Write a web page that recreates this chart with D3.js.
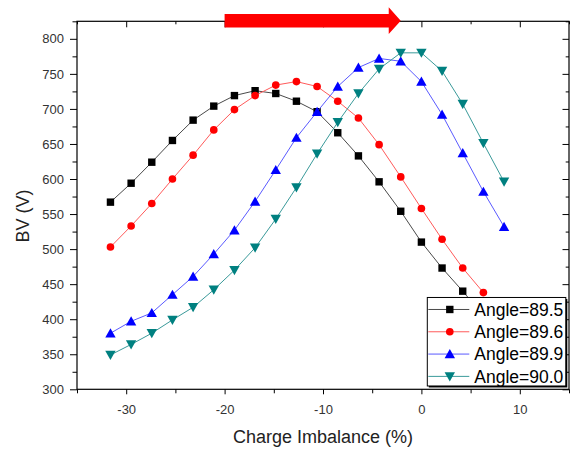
<!DOCTYPE html>
<html>
<head>
<meta charset="utf-8">
<script src="https://cdn.jsdelivr.net/npm/d3@7"></script>
<style>
  body { margin: 0; background: #fff; }
  svg { display: block; font-family: "Liberation Sans", Arial, sans-serif; }
  .tick text { fill: #333; font-size: 13px; }
</style>
</head>
<body>
<script>
// Charge imbalance values (%) shared by all series
const imbalance = [-31.6, -29.5, -27.4, -25.3, -23.2, -21.1, -19.0, -16.9, -14.8, -12.7,
  -10.6, -8.5, -6.4, -4.3, -2.1, 0, 2.1, 4.2, 6.3, 8.4];

// BV (V) per series
const bv895 = [567, 594, 624, 655, 684, 704, 719, 726, 722, 711, 696, 666, 633, 596, 554, 510, 473, 440, 405];
const bv896 = [503, 533, 565, 600, 634, 670, 699, 719, 734, 739, 732, 711, 687, 649, 603, 558, 514, 473, 438];
const bv899 = [380, 397, 409, 435, 461, 493, 527, 568, 613, 659, 696, 732, 759, 772, 768, 739, 692, 637, 582, 532];
const bv900 = [349, 364, 380, 399, 417, 442, 470, 502, 543, 588, 636, 681, 722, 757, 780, 780, 754, 707, 651, 596];

const seriesNames = ['Angle=89.5', 'Angle=89.6', 'Angle=89.9', 'Angle=90.0'];
const xMajor = [-30, -20, -10, 0, 10];
const xMinor = [-35, -25, -15, -5, 5, 15];
const yMajor = [300, 350, 400, 450, 500, 550, 600, 650, 700, 750, 800];
const yMinor = [325, 375, 425, 475, 525, 575, 625, 675, 725, 775, 825];
const arrowFrom = -20;
const arrowTo = -2.1;

const fullWidth = 573;
const fullHeight = 451;
const margin = { top: 21.3, right: 4, bottom: 61.7, left: 77 };
const width = fullWidth - margin.left - margin.right;
const height = fullHeight - margin.top - margin.bottom;

const svg = d3.select('body')
  .append('svg')
  .attr('width', fullWidth)
  .attr('height', fullHeight);

const g = svg.append('g')
  .attr('transform', `translate(${margin.left}, ${margin.top})`);

const x = d3.scaleLinear().domain([-35, 15]).range([0, width]);
const y = d3.scaleLinear().domain([300, 825]).range([height, 0]);

// Axes: left/bottom outward, top/right inward
const styleAxis = (sel) => {
  sel.select('.domain').remove();
  sel.selectAll('.tick line').attr('stroke', '#000').attr('stroke-width', 1);
};

g.append('g')
  .attr('transform', `translate(0, ${height})`)
  .call(d3.axisBottom(x).tickValues(xMajor).tickSize(5).tickPadding(10).tickFormat(d => String(d)))
  .call(styleAxis);
g.append('g')
  .attr('transform', `translate(0, ${height})`)
  .call(d3.axisBottom(x).tickValues(xMinor).tickSize(4).tickFormat(''))
  .call(styleAxis);
g.append('g')
  .call(d3.axisBottom(x).tickValues(xMajor).tickSize(6).tickFormat(''))
  .call(styleAxis);
g.append('g')
  .call(d3.axisBottom(x).tickValues(xMinor).tickSize(3).tickFormat(''))
  .call(styleAxis);

g.append('g')
  .call(d3.axisLeft(y).tickValues(yMajor).tickSize(7).tickPadding(6).tickFormat(d => String(d)))
  .call(styleAxis);
g.append('g')
  .call(d3.axisLeft(y).tickValues(yMinor).tickSize(4.5).tickFormat(''))
  .call(styleAxis);
g.append('g')
  .attr('transform', `translate(${width}, 0)`)
  .call(d3.axisLeft(y).tickValues(yMajor).tickSize(-6.5).tickFormat(''))
  .call(styleAxis)
  .selectAll('.tick line').attr('x2', -6.5);
g.append('g')
  .attr('transform', `translate(${width}, 0)`)
  .call(d3.axisLeft(y).tickValues(yMinor).tickSize(-3.3).tickFormat(''))
  .call(styleAxis)
  .selectAll('.tick line').attr('x2', -3.3);

// frame
g.append('rect')
  .attr('width', width)
  .attr('height', height)
  .attr('fill', 'none')
  .attr('stroke', '#000')
  .attr('stroke-width', 1.2);

// marker shapes
const markers = {
  square: 'M-3.7,-3.7H3.7V3.7H-3.7Z',
  circle: d3.symbol(d3.symbolCircle, 46)(),
  up: 'M0,-5L5.2,4.2L-5.2,4.2Z',
  down: 'M0,5L5.2,-4.2L-5.2,-4.2Z'
};

const series = [
  { name: seriesNames[0], values: bv895, line: '#4a4a4a', fill: '#000', marker: 'square' },
  { name: seriesNames[1], values: bv896, line: '#ff5a5a', fill: '#ff0000', marker: 'circle' },
  { name: seriesNames[2], values: bv899, line: '#5a5aff', fill: '#0000ff', marker: 'up' },
  { name: seriesNames[3], values: bv900, line: '#3a9a9a', fill: '#008080', marker: 'down' }
];

const line = d3.line()
  .x(d => x(d[0]))
  .y(d => y(d[1]));

series.forEach((s) => {
  const pts = s.values.map((v, i) => [imbalance[i], v]);
  g.append('path')
    .datum(pts)
    .attr('d', line)
    .attr('fill', 'none')
    .attr('stroke', s.line)
    .attr('stroke-width', 1);
  g.append('g')
    .selectAll('path')
    .data(pts)
    .enter()
    .append('path')
    .attr('transform', d => `translate(${x(d[0])}, ${y(d[1])})`)
    .attr('d', markers[s.marker])
    .attr('fill', s.fill);
});

// Legend
const leg = g.append('g')
  .attr('transform', `translate(${x(0.6)}, ${y(431)})`);
const legW = 138.5;
const legH = 88.5;
leg.append('rect')
  .attr('x', 1.5)
  .attr('y', 1.5)
  .attr('width', legW)
  .attr('height', legH)
  .attr('fill', '#000');
leg.append('rect')
  .attr('width', legW)
  .attr('height', legH)
  .attr('fill', '#fff')
  .attr('stroke', '#000')
  .attr('stroke-width', 1);

const item = leg.selectAll('.legend-item')
  .data(series)
  .enter()
  .append('g')
  .attr('class', 'legend-item')
  .attr('transform', (d, i) => `translate(0, ${12 + i * 22.3})`);
item.append('line')
  .attr('x1', 1)
  .attr('x2', 42)
  .attr('stroke', d => d.line)
  .attr('stroke-width', 1);
item.append('path')
  .attr('transform', 'translate(22.5, 0)')
  .attr('d', d => markers[d.marker])
  .attr('fill', d => d.fill);
item.append('text')
  .attr('x', 47)
  .attr('y', 6.3)
  .style('font-size', '17.5px')
  .attr('fill', '#000')
  .text(d => d.name);

// Axis titles
svg.append('text')
  .attr('x', margin.left + width / 2)
  .attr('y', 443)
  .attr('text-anchor', 'middle')
  .style('font-size', '18px')
  .attr('fill', '#222')
  .text('Charge Imbalance (%)');

svg.append('text')
  .attr('transform', 'translate(29, 216) rotate(-90)')
  .attr('text-anchor', 'middle')
  .style('font-size', '18px')
  .attr('fill', '#222')
  .text('BV (V)');

// Red arrow on the top axis
const ax0 = x(arrowFrom);
const ax1 = x(arrowTo);
const headLen = 12;
svg.append('path')
  .attr('transform', `translate(${margin.left}, ${margin.top - 0.6})`)
  .attr('d', `M${ax0},-6.7 H${ax1 - headLen} V-13.4 L${ax1},0 L${ax1 - headLen},13.4 V6.7 H${ax0} Z`)
  .attr('fill', '#ff0000');
</script>
</body>
</html>
